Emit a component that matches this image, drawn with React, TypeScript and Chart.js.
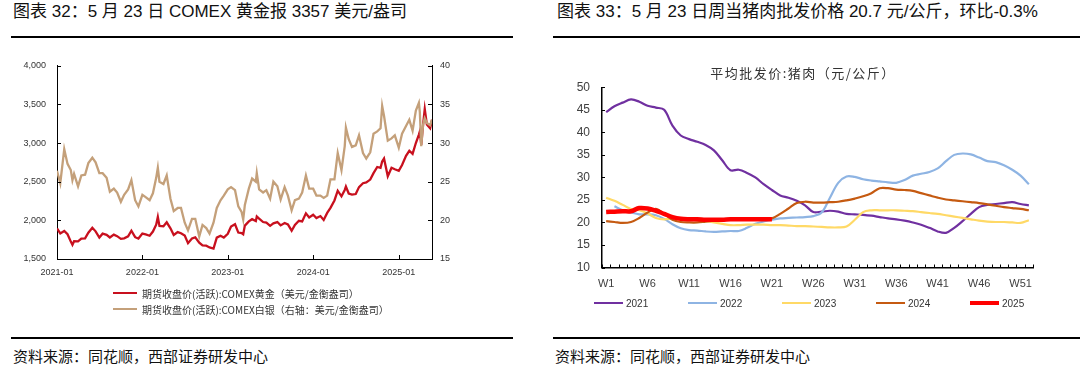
import React, { useEffect, useRef } from 'react';
import { Chart, registerables } from 'chart.js';

Chart.register(...registerables);

// ---------- Chart 32: COMEX gold & silver ----------
const metalDates = [
  '2021-01-01','2021-01-15','2021-02-01','2021-02-15','2021-03-01','2021-03-08','2021-03-15','2021-04-01','2021-04-15','2021-05-01','2021-05-15','2021-06-01','2021-06-15','2021-07-01','2021-07-15','2021-08-01','2021-08-15','2021-09-01','2021-09-15','2021-10-01','2021-10-15','2021-11-01','2021-11-15','2021-12-01','2021-12-15',
  '2022-01-01','2022-01-15','2022-02-01','2022-02-15','2022-03-01','2022-03-08','2022-03-15','2022-04-01','2022-04-15','2022-05-01','2022-05-15','2022-06-01','2022-06-15','2022-07-01','2022-07-15','2022-08-01','2022-08-15','2022-09-01','2022-09-15','2022-10-01','2022-10-15','2022-11-01','2022-11-15','2022-12-01','2022-12-15',
  '2023-01-01','2023-01-15','2023-02-01','2023-02-15','2023-03-01','2023-03-08','2023-03-15','2023-04-01','2023-04-15','2023-05-01','2023-05-05','2023-05-15','2023-06-01','2023-06-15','2023-07-01','2023-07-15','2023-08-01','2023-08-15','2023-09-01','2023-09-15','2023-10-01','2023-10-15','2023-11-01','2023-11-15','2023-12-01','2023-12-15',
  '2024-01-01','2024-01-15','2024-02-01','2024-02-15','2024-03-01','2024-03-15','2024-04-01','2024-04-15','2024-05-01','2024-05-15','2024-05-20','2024-06-01','2024-06-15','2024-07-01','2024-07-15','2024-08-01','2024-08-15','2024-09-01','2024-09-15','2024-10-01','2024-10-15','2024-10-22','2024-10-30','2024-11-15','2024-12-01','2024-12-15',
  '2025-01-01','2025-01-15','2025-02-01','2025-02-15','2025-03-01','2025-03-15','2025-03-28','2025-04-01','2025-04-07','2025-04-15','2025-04-22','2025-05-01','2025-05-15','2025-05-23',
];

const goldClose = [
  1895,1830,1863,1820,1725,1683,1730,1728,1765,1768,1840,1905,1858,1778,1828,1813,1778,1815,1795,1760,1768,1793,1866,1782,1765,
  1829,1818,1801,1855,1944,2043,1927,1924,1975,1897,1810,1848,1833,1802,1705,1766,1780,1712,1675,1672,1650,1635,1776,1800,1778,
  1826,1921,1950,1842,1836,1820,1932,1986,2015,1990,2050,2022,1978,1970,1929,1961,1978,1935,1966,1946,1866,1941,1994,1985,2090,2036,
  2072,2030,2055,2005,2096,2161,2257,2383,2311,2393,2438,2347,2332,2340,2430,2480,2490,2527,2610,2690,2680,2760,2800,2570,2680,2660,
  2640,2715,2835,2900,2860,3000,3110,3150,2975,3240,3440,3240,3190,3300,
];

const silverClose = [
  26.4,24.8,29.2,27.3,26.5,25.2,26.0,24.4,25.8,25.9,27.4,28.1,27.5,26.1,26.1,25.5,23.7,24.1,23.6,22.4,23.3,24.0,25.2,22.6,21.8,
  23.3,23.0,22.6,23.5,25.5,26.8,25.0,24.7,25.8,22.8,21.2,21.6,21.6,19.7,18.7,20.2,20.2,17.9,19.4,19.0,18.3,19.7,21.6,22.6,23.2,
  24.0,24.3,23.9,21.8,21.1,20.1,22.0,24.1,25.4,25.0,26.1,24.0,23.6,23.9,22.8,25.0,24.4,22.7,24.3,23.2,21.3,22.6,22.8,23.6,25.8,24.1,
  24.1,23.2,23.2,22.9,23.2,25.3,25.3,28.7,26.5,29.6,32.0,30.5,29.5,29.7,31.0,28.7,28.0,28.8,31.2,31.5,31.9,34.8,33.5,30.3,30.6,31.0,
  29.4,31.2,32.2,33.0,31.6,34.2,35.2,34.0,29.6,32.4,33.2,32.6,32.3,33.0,
];

const metalYearTicks = ['2021-01', '2022-01', '2023-01', '2024-01', '2025-01'];
const metalStart = '2021-01-01';
const metalEnd = '2025-05-23';
const goldLabel = '期货收盘价(活跃):COMEX黄金（美元/金衡盎司）';
const silverLabel = '期货收盘价(活跃):COMEX白银（右轴：美元/金衡盎司）';

// ---------- Chart 33: pork wholesale price ----------
const weekLabels = [
  'W1','W2','W3','W4','W5','W6','W7','W8','W9','W10','W11','W12','W13','W14','W15','W16','W17','W18','W19','W20','W21','W22','W23','W24','W25','W26',
  'W27','W28','W29','W30','W31','W32','W33','W34','W35','W36','W37','W38','W39','W40','W41','W42','W43','W44','W45','W46','W47','W48','W49','W50','W51','W52',
];

const pork2021 = [
  44.5,45.8,46.6,47.3,46.8,45.9,45.5,45.0,41.5,39.3,38.5,37.9,37.2,36.0,33.8,31.6,31.7,31.0,30.0,28.5,27.2,26.0,25.5,24.8,23.8,22.3,
  22.4,22.6,22.4,21.9,21.8,21.7,21.5,21.2,20.9,20.7,20.4,20.0,19.5,18.8,18.0,17.7,18.8,20.3,21.9,23.4,23.9,24.1,24.3,24.5,24.1,23.8,
];
const pork2022 = [
  null,23.6,22.7,22.2,21.8,21.8,21.6,20.8,19.6,18.7,18.3,18.2,18.0,17.9,18.0,18.1,18.1,18.8,19.7,20.2,20.6,20.9,21.0,21.1,21.2,21.4,
  22.2,25.5,28.8,30.2,30.1,29.6,29.3,29.1,28.9,28.8,29.4,30.4,30.8,31.2,32.0,33.6,35.0,35.3,35.1,34.4,33.6,33.4,32.7,31.7,30.4,28.5,
];
const pork2023 = [
  25.5,24.8,23.9,23.0,22.7,22.0,21.0,20.7,20.9,20.9,20.7,20.5,20.3,20.0,19.7,19.4,19.4,19.5,19.5,19.5,19.4,19.4,19.3,19.2,19.2,19.1,
  19.0,18.9,18.9,19.1,20.6,22.3,22.7,22.7,22.7,22.7,22.6,22.5,22.3,22.1,21.9,21.6,21.3,21.0,20.7,20.4,20.2,20.1,20.1,20.0,19.9,20.5,
];
const pork2024 = [
  20.3,20.1,19.9,20.1,21.0,22.2,23.0,21.9,20.6,20.1,20.0,20.0,20.2,20.4,20.6,20.6,20.6,20.6,20.6,20.7,20.9,21.9,23.1,24.3,24.6,24.4,
  24.4,24.5,24.6,24.9,25.3,25.8,26.5,27.6,27.6,27.3,27.2,27.0,26.5,26.0,25.5,25.1,24.9,24.7,24.5,24.3,24.0,23.7,23.4,23.2,23.0,22.7,
];
const pork2025 = [
  22.3,22.4,22.5,22.5,23.2,23.1,22.6,21.9,21.2,20.8,20.7,20.7,20.6,20.6,20.6,20.7,20.7,20.7,20.7,20.7,20.7,
];
const porkSeriesNames = ['2021', '2022', '2023', '2024', '2025'];
const porkColors = ['#7030A0', '#8EB4E3', '#FFD966', '#C55A11', '#FF0000'];

// ---------- helpers ----------
const dayNum = (s: string) => (Date.parse(s) - Date.parse(metalStart)) / 86400000;

const innerTicks = {
  id: 'innerTicks',
  afterDraw(chart: any, _args: any, opts: any) {
    if (!opts || !opts.enabled) return;
    const { ctx, chartArea: a } = chart;
    const len = opts.len || 4;
    ctx.save();
    ctx.strokeStyle = opts.color || '#000';
    ctx.lineWidth = 1;
    ctx.beginPath();
    Object.keys(chart.scales).forEach((id) => {
      const s = chart.scales[id];
      if (s.isHorizontal()) {
        let xs: number[] = [];
        if (opts.categoryBoundaries) {
          const step = s.getPixelForValue(1) - s.getPixelForValue(0);
          for (let i = 0; i <= s.ticks.length; i++) xs.push(s.getPixelForValue(i) - step / 2);
        } else {
          xs = s.ticks.map((_t: any, i: number) => s.getPixelForTick(i));
        }
        xs.forEach((x) => {
          const px = Math.round(x) + 0.5;
          ctx.moveTo(px, a.bottom);
          ctx.lineTo(px, a.bottom - len);
        });
      } else {
        s.ticks.forEach((_t: any, i: number) => {
          const py = Math.round(s.getPixelForTick(i)) + 0.5;
          if (s.position === 'left') {
            ctx.moveTo(a.left, py);
            ctx.lineTo(a.left + len, py);
          } else {
            ctx.moveTo(a.right, py);
            ctx.lineTo(a.right - len, py);
          }
        });
      }
    });
    ctx.stroke();
    ctx.restore();
  },
};

function ChartBox({ config, width, height, style }: any) {
  const ref = useRef<HTMLCanvasElement>(null);
  useEffect(() => {
    if (!ref.current) return;
    const chart = new Chart(ref.current, config);
    return () => chart.destroy();
  }, []);
  return (
    <canvas ref={ref} width={width} height={height} style={{ position: 'absolute', width, height, ...style }} />
  );
}

const tickFontL = { family: "'Liberation Sans', Arial, sans-serif", size: 9 };
const tickFontR = { family: "'Liberation Sans', Arial, sans-serif", size: 12 };

const metalConfig: any = {
  type: 'line',
  data: {
    datasets: [
      {
        label: goldLabel,
        data: metalDates.map((d, i) => ({ x: dayNum(d), y: goldClose[i] })),
        borderColor: '#C8101E',
        borderWidth: 2.3,
        pointRadius: 0,
        tension: 0,
        yAxisID: 'y',
        order: 2,
      },
      {
        label: silverLabel,
        data: metalDates.map((d, i) => ({ x: dayNum(d), y: silverClose[i] })),
        borderColor: '#C4A07A',
        borderWidth: 2.3,
        pointRadius: 0,
        tension: 0,
        yAxisID: 'y1',
        order: 1,
      },
    ],
  },
  options: {
    responsive: false,
    animation: false,
    devicePixelRatio: 1,
    layout: { padding: { left: 12, right: 78, top: 25.7, bottom: 11 } },
    plugins: { legend: { display: false }, tooltip: { enabled: false }, innerTicks: { enabled: true, len: 4 } },
    scales: {
      x: {
        type: 'linear',
        min: dayNum(metalStart),
        max: dayNum(metalEnd),
        afterBuildTicks: (scale: any) => {
          scale.ticks = metalYearTicks.map((l) => ({ value: dayNum(l + '-01') }));
        },
        afterFit: (scale: any) => { scale.height = 20; },
        grid: { display: false, drawTicks: false },
        border: { display: true, color: '#000', width: 1 },
        ticks: {
          autoSkip: false,
          maxRotation: 0,
          padding: 8,
          color: '#333',
          font: tickFontL,
          callback: (v: number) => {
            const idx = metalYearTicks.findIndex((l) => dayNum(l + '-01') === v);
            return idx >= 0 ? metalYearTicks[idx] : '';
          },
        },
      },
      y: {
        position: 'left',
        min: 1500,
        max: 4000,
        afterFit: (scale: any) => { scale.width = 45; },
        grid: { display: false, drawTicks: false },
        border: { display: true, color: '#000', width: 1 },
        ticks: { stepSize: 500, padding: 11, color: '#333', font: tickFontL, callback: (v: number) => v.toLocaleString('en-US') },
      },
      y1: {
        position: 'right',
        min: 15,
        max: 40,
        afterFit: (scale: any) => { scale.width = 30; },
        grid: { display: false, drawTicks: false },
        border: { display: true, color: '#000', width: 1 },
        ticks: { stepSize: 5, padding: 8, color: '#333', font: tickFontL },
      },
    },
  },
  plugins: [innerTicks],
};

const porkData = [pork2021, pork2022, pork2023, pork2024, pork2025];

const porkConfig: any = {
  type: 'line',
  data: {
    labels: weekLabels,
    datasets: porkSeriesNames.map((name, i) => ({
      label: name,
      data: porkData[i],
      borderColor: porkColors[i],
      backgroundColor: porkColors[i],
      borderWidth: name === '2025' ? 4.5 : 2.2,
      pointRadius: 0,
      tension: 0.35,
      spanGaps: false,
      order: name === '2025' ? 0 : 5 - i,
    })),
  },
  options: {
    responsive: false,
    animation: false,
    devicePixelRatio: 1,
    layout: { padding: { left: 0, right: 47, top: 47.3, bottom: 12.5 } },
    plugins: { legend: { display: false }, tooltip: { enabled: false }, innerTicks: { enabled: true, len: 3, categoryBoundaries: true } },
    scales: {
      x: {
        type: 'category',
        offset: true,
        afterFit: (scale: any) => { scale.height = 30; },
        grid: { display: false, drawTicks: false, offset: true },
        border: { display: true, color: '#000', width: 1.5 },
        ticks: {
          autoSkip: false,
          maxRotation: 0,
          padding: 10,
          color: '#404040',
          font: { family: "'Liberation Sans', Arial, sans-serif", size: 11 },
          callback: (_v: any, i: number) => (i % 5 === 0 ? weekLabels[i] : ''),
        },
      },
      y: {
        min: 10,
        max: 50,
        afterFit: (scale: any) => { scale.width = 72; },
        grid: { display: false, drawTicks: false },
        border: { display: true, color: '#000', width: 1.5 },
        ticks: { stepSize: 5, padding: 12, color: '#404040', font: tickFontR },
      },
    },
  },
  plugins: [innerTicks],
};

const cjk = "'Liberation Sans', 'Noto Sans CJK SC', sans-serif";

export default function App() {
  useEffect(() => {
    document.body.style.margin = '0';
  }, []);
  const abs = (o: any) => ({ position: 'absolute' as const, ...o });
  return (
    <div style={{ position: 'fixed', left: 0, top: 0, width: 1080, height: 366, background: '#fff', overflow: 'hidden', fontFamily: cjk, color: '#111' }}>
      {/* titles */}
      <div style={abs({ left: 13, top: 2, fontSize: 17, lineHeight: '20px', whiteSpace: 'nowrap' })}>图表 32：5 月 23 日 COMEX 黄金报 3357 美元/盎司</div>
      <div style={abs({ left: 557, top: 2, fontSize: 17, lineHeight: '20px', whiteSpace: 'nowrap' })}>图表 33：5 月 23 日周当猪肉批发价格 20.7 元/公斤，环比-0.3%</div>
      <div style={abs({ left: 11, top: 36, width: 502, height: 2, background: '#000' })} />
      <div style={abs({ left: 553, top: 36, width: 527, height: 2, background: '#000' })} />

      {/* charts */}
      <ChartBox config={metalConfig} width={540} height={250} style={{ left: 0, top: 40 }} />
      <ChartBox config={porkConfig} width={550} height={270} style={{ left: 530, top: 40 }} />

      {/* pork chart subtitle */}
      <div style={abs({ left: 803, top: 65, transform: 'translateX(-50%)', fontSize: 13, lineHeight: '16px', letterSpacing: '1.5px', color: '#333', whiteSpace: 'nowrap', fontFamily: "'Noto Sans CJK SC', sans-serif" })}>平均批发价:猪肉（元/公斤）</div>

      {/* metal legend */}
      {[{ c: '#C8101E', t: goldLabel, y: 293 }, { c: '#C4A07A', t: silverLabel, y: 309 }].map((it) => (
        <div key={it.t} style={abs({ left: 113, top: it.y - 8, height: 16, display: 'flex', alignItems: 'center', whiteSpace: 'nowrap' })}>
          <span style={{ display: 'inline-block', width: 24, height: 2, background: it.c, marginRight: 5 }} />
          <span style={{ fontSize: 10, color: '#333', fontFamily: "'Noto Sans CJK SC', sans-serif" }}>{it.t}</span>
        </div>
      ))}

      {/* pork legend */}
      <div style={abs({ left: 594, top: 295, height: 16, display: 'flex', alignItems: 'center' })}>
        {porkSeriesNames.map((n, i) => (
          <div key={n} style={{ width: 94, display: 'flex', alignItems: 'center' }}>
            <span style={{ display: 'inline-block', width: 29, height: n === '2025' ? 4 : 2.5, background: porkColors[i], marginRight: 3 }} />
            <span style={{ fontSize: 10, color: '#333' }}>{n}</span>
          </div>
        ))}
      </div>

      {/* bottom rules and sources */}
      <div style={abs({ left: 11, top: 337, width: 502, height: 2, background: '#000' })} />
      <div style={abs({ left: 553, top: 337, width: 527, height: 2, background: '#000' })} />
      <div style={abs({ left: 13, top: 347, fontSize: 15, lineHeight: '18px', whiteSpace: 'nowrap', fontFamily: "'Noto Sans CJK SC', sans-serif" })}>资料来源：同花顺，西部证券研发中心</div>
      <div style={abs({ left: 555, top: 347, fontSize: 15, lineHeight: '18px', whiteSpace: 'nowrap', fontFamily: "'Noto Sans CJK SC', sans-serif" })}>资料来源：同花顺，西部证券研发中心</div>
    </div>
  );
}
